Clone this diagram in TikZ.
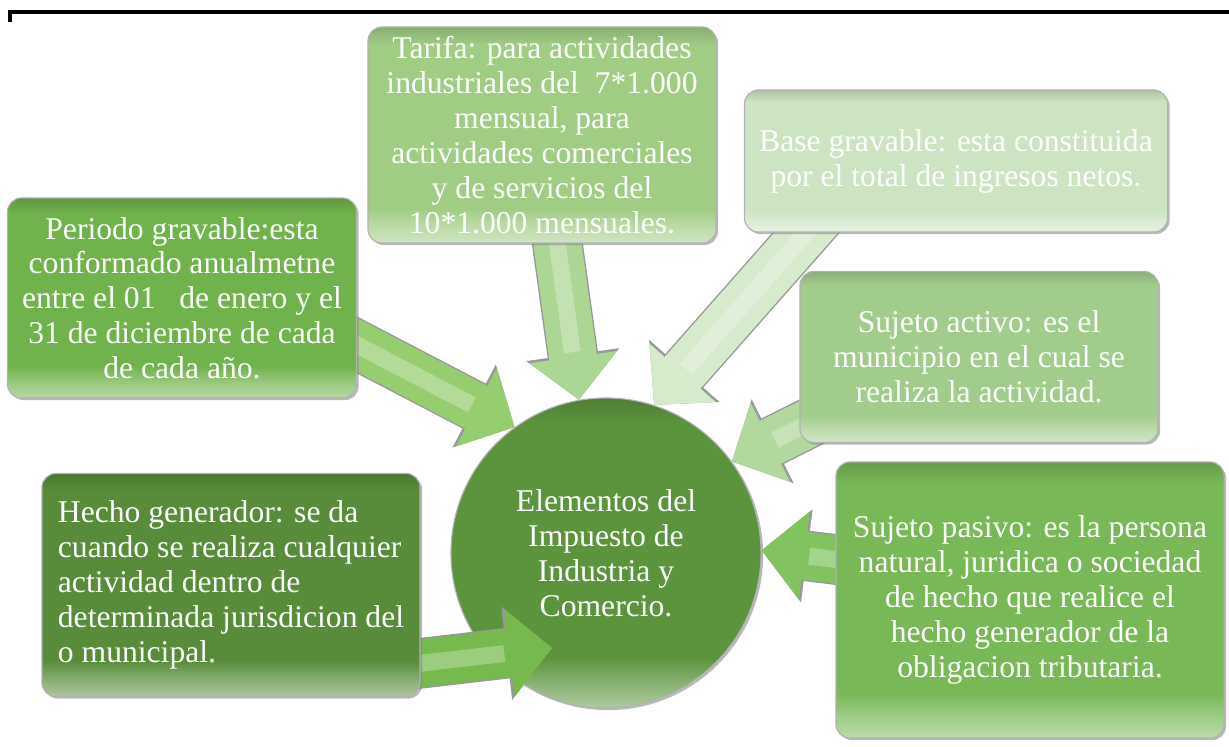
\documentclass[tikz,border=0pt]{standalone}
\usepackage{fontspec}
\setmainfont{Liberation Serif}
\usetikzlibrary{arrows.meta, shadows}

\definecolor{verdetarifa}{RGB}{160,204,132}
\definecolor{verdebase}{RGB}{204,228,194}
\definecolor{verdeperiodo}{RGB}{112,178,76}
\definecolor{verdeactivo}{RGB}{162,204,140}
\definecolor{verdehecho}{RGB}{88,140,58}
\definecolor{verdepasivo}{RGB}{120,184,86}
\definecolor{verdecentro}{RGB}{92,148,62}
\definecolor{flechaper}{RGB}{150,205,110}
\definecolor{flechatar}{RGB}{172,214,148}
\definecolor{flechabas}{RGB}{214,234,204}
\definecolor{flechaact}{RGB}{178,216,158}
\definecolor{flechapas}{RGB}{130,195,95}
\definecolor{flechahec}{RGB}{118,186,78}
\colorlet{cajacolor}{verdecentro}

% bevel: light strip at the bottom, darker edge at the top
\pgfdeclareverticalshading[cajacolor]{bisel}{100bp}{%
  color(0bp)=(cajacolor!50!white); color(25bp)=(cajacolor!50!white);
  color(29bp)=(cajacolor!72!white); color(33bp)=(cajacolor);
  color(71bp)=(cajacolor); color(75bp)=(cajacolor!85!black);
  color(100bp)=(cajacolor!85!black)}

\tikzset{
  caja/.style={/utils/exec={\colorlet{cajacolor}{#1}}, shading=bisel,
    rounded corners=0.35cm, draw=black!30, line width=0.8pt, text=white,
    align=center, inner sep=0pt,
    drop shadow={shadow xshift=1.5pt, shadow yshift=-1.5pt, opacity=0.55}},
  flecha/.style={draw=#1, line width=34pt,
    -{Triangle[width=0pt 1.8, length=0pt 0.9]},
    preaction={draw=black!40, line width=36pt,
      -{Triangle[width=0pt 1.8, length=0pt 0.9]}},
    postaction={draw=white, draw opacity=0.28, line width=12pt, -, shorten >=1.2cm}}
}

\begin{document}
\begin{tikzpicture}[x=0.025cm, y=-0.025cm, font=\fontsize{22.5}{24.8}\selectfont]
  \useasboundingbox (0,0) rectangle (1229,746);
  \draw[line width=2.8pt] (10,22) -- (10,12) -- (1229,12);

  % centre
  \node[caja=verdecentro, circle, minimum size=7.75cm] (centro) at (606,553)
    {Elementos del\\Impuesto de\\Industria y\\Comercio.};

  % arrow tails, hidden under the boxes
  \coordinate (inper) at (313,322);
  \coordinate (intar) at (552,205);
  \coordinate (inbas) at (835,200);
  \coordinate (inact) at (835,410);
  \coordinate (inpas) at (880,565);
  \coordinate (inhec) at (380,668);
  \coordinate (puntahec) at (552,648);

  \draw[flecha=flechaper] (inper) -- (centro.126);
  \draw[flecha=flechatar] (intar) -- (centro.100);
  \draw[flecha=flechabas] (inbas) -- (centro.72);
  \draw[flecha=flechaact] (inact) -- (centro.36);
  \draw[flecha=flechapas] (inpas) -- (centro.1);
  \draw[flecha=flechahec] (inhec) -- (puntahec);

  % boxes
  \node[caja=verdetarifa, minimum width=8.7cm, minimum height=5.4cm] (tarifa) at (542,135)
    {Tarifa: para actividades\\industriales del\ \ 7*1.000\\mensual, para\\actividades comerciales\\y de servicios del\\10*1.000 mensuales.};
  \node[caja=verdebase, minimum width=10.575cm, minimum height=3.55cm] (base) at (956,161)
    {Base gravable: esta constituida\\por el total de ingresos netos.};
  \node[caja=verdeperiodo, minimum width=8.725cm, minimum height=5cm] (periodo) at (182,298)
    {Periodo gravable:esta\\conformado anualmetne\\entre el 01\ \ \ de enero y el\\31 de diciembre de cada\\de cada año.};
  \node[caja=verdeactivo, minimum width=8.95cm, minimum height=4.275cm] (activo) at (979,357)
    {Sujeto activo: es el\\municipio en el cual se\\realiza la actividad.};
  \node[caja=verdehecho, align=left, minimum width=9.45cm, minimum height=5.575cm] (hecho) at (231,585)
    {Hecho generador: se da\\cuando se realiza cualquier\\actividad dentro de\\determinada jurisdicion del\\o municipal.};
  \node[caja=verdepasivo, minimum width=9.7cm, minimum height=6.9cm] (pasivo) at (1030,600)
    {Sujeto pasivo: es la persona\\natural, juridica o sociedad\\de hecho que realice el\\hecho generador de la\\obligacion tributaria.};
\end{tikzpicture}
\end{document}
